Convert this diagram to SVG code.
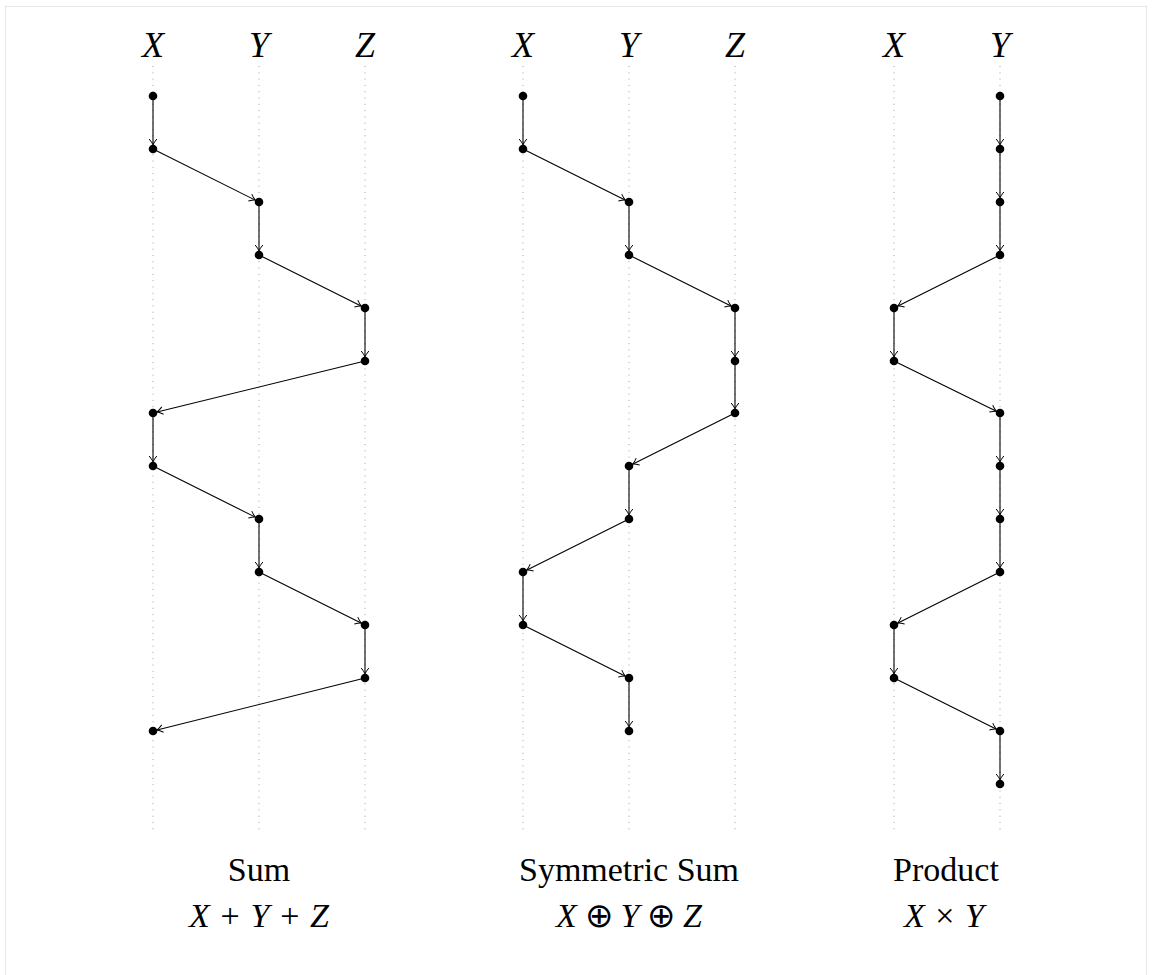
<svg xmlns="http://www.w3.org/2000/svg" width="1152" height="975" viewBox="0 0 1152 975">
<style>
.guide{stroke:#a0a0a0;stroke-width:1;stroke-dasharray:1 5.3;fill:none}
.edge{stroke:#000;stroke-width:1.1;fill:none;marker-end:url(#arr)}
.dot{fill:#000}
text{font-family:"Liberation Serif","Times New Roman","DejaVu Serif",serif;fill:#000;text-anchor:middle}
.var{font-style:italic;font-size:36px}
.cap{font-size:34px}
.math{font-size:34px}
.i{font-style:italic}
.op{font-family:"DejaVu Sans","Liberation Serif",serif;font-weight:200}
</style>
<defs>
<marker id="arr" markerUnits="userSpaceOnUse" orient="auto" refX="0" refY="0" markerWidth="20" markerHeight="20" viewBox="-10 -10 20 20" overflow="visible">
<path d="M-10,-3.8 Q-6.5,-1 -4.2,0 Q-6.5,1 -10,3.8" stroke="#000" stroke-width="1" fill="none"/>
</marker>
</defs>
<rect x="5.5" y="6.5" width="1141" height="990" fill="none" stroke="#e6e6e6" stroke-width="1"/>

<g id="guides">
<line class="guide" x1="153" y1="66" x2="153" y2="834"/>
<line class="guide" x1="259" y1="66" x2="259" y2="834"/>
<line class="guide" x1="365" y1="66" x2="365" y2="834"/>
<line class="guide" x1="523" y1="66" x2="523" y2="834"/>
<line class="guide" x1="629" y1="66" x2="629" y2="834"/>
<line class="guide" x1="735" y1="66" x2="735" y2="834"/>
<line class="guide" x1="894" y1="66" x2="894" y2="834"/>
<line class="guide" x1="1000" y1="66" x2="1000" y2="834"/>
</g>

<g id="headers">
<text class="var" x="153" y="57">X</text>
<text class="var" x="259" y="57">Y</text>
<text class="var" x="365" y="57">Z</text>
<text class="var" x="523" y="57">X</text>
<text class="var" x="629" y="57">Y</text>
<text class="var" x="735" y="57">Z</text>
<text class="var" x="894" y="57">X</text>
<text class="var" x="1000" y="57">Y</text>
</g>

<g id="connectors">
<line class="edge" x1="153" y1="96" x2="153" y2="149"/>
<line class="edge" x1="153" y1="149" x2="259" y2="202"/>
<line class="edge" x1="259" y1="202" x2="259" y2="255"/>
<line class="edge" x1="259" y1="255" x2="365" y2="308"/>
<line class="edge" x1="365" y1="308" x2="365" y2="361"/>
<line class="edge" x1="365" y1="361" x2="153" y2="413"/>
<line class="edge" x1="153" y1="413" x2="153" y2="466"/>
<line class="edge" x1="153" y1="466" x2="259" y2="519"/>
<line class="edge" x1="259" y1="519" x2="259" y2="572"/>
<line class="edge" x1="259" y1="572" x2="365" y2="625"/>
<line class="edge" x1="365" y1="625" x2="365" y2="678"/>
<line class="edge" x1="365" y1="678" x2="153" y2="731"/>
<line class="edge" x1="523" y1="96" x2="523" y2="149"/>
<line class="edge" x1="523" y1="149" x2="629" y2="202"/>
<line class="edge" x1="629" y1="202" x2="629" y2="255"/>
<line class="edge" x1="629" y1="255" x2="735" y2="308"/>
<line class="edge" x1="735" y1="308" x2="735" y2="361"/>
<line class="edge" x1="735" y1="361" x2="735" y2="413"/>
<line class="edge" x1="735" y1="413" x2="629" y2="466"/>
<line class="edge" x1="629" y1="466" x2="629" y2="519"/>
<line class="edge" x1="629" y1="519" x2="523" y2="572"/>
<line class="edge" x1="523" y1="572" x2="523" y2="625"/>
<line class="edge" x1="523" y1="625" x2="629" y2="678"/>
<line class="edge" x1="629" y1="678" x2="629" y2="731"/>
<line class="edge" x1="1000" y1="96" x2="1000" y2="149"/>
<line class="edge" x1="1000" y1="149" x2="1000" y2="202"/>
<line class="edge" x1="1000" y1="202" x2="1000" y2="255"/>
<line class="edge" x1="1000" y1="255" x2="894" y2="308"/>
<line class="edge" x1="894" y1="308" x2="894" y2="361"/>
<line class="edge" x1="894" y1="361" x2="1000" y2="413"/>
<line class="edge" x1="1000" y1="413" x2="1000" y2="466"/>
<line class="edge" x1="1000" y1="466" x2="1000" y2="519"/>
<line class="edge" x1="1000" y1="519" x2="1000" y2="572"/>
<line class="edge" x1="1000" y1="572" x2="894" y2="625"/>
<line class="edge" x1="894" y1="625" x2="894" y2="678"/>
<line class="edge" x1="894" y1="678" x2="1000" y2="731"/>
<line class="edge" x1="1000" y1="731" x2="1000" y2="784"/>
</g>

<g id="sum-nodes">
<circle class="dot" cx="153" cy="96" r="4.3"/>
<circle class="dot" cx="153" cy="149" r="4.3"/>
<circle class="dot" cx="259" cy="202" r="4.3"/>
<circle class="dot" cx="259" cy="255" r="4.3"/>
<circle class="dot" cx="365" cy="308" r="4.3"/>
<circle class="dot" cx="365" cy="361" r="4.3"/>
<circle class="dot" cx="153" cy="413" r="4.3"/>
<circle class="dot" cx="153" cy="466" r="4.3"/>
<circle class="dot" cx="259" cy="519" r="4.3"/>
<circle class="dot" cx="259" cy="572" r="4.3"/>
<circle class="dot" cx="365" cy="625" r="4.3"/>
<circle class="dot" cx="365" cy="678" r="4.3"/>
<circle class="dot" cx="153" cy="731" r="4.3"/>
</g>
<g id="symsum-nodes">
<circle class="dot" cx="523" cy="96" r="4.3"/>
<circle class="dot" cx="523" cy="149" r="4.3"/>
<circle class="dot" cx="629" cy="202" r="4.3"/>
<circle class="dot" cx="629" cy="255" r="4.3"/>
<circle class="dot" cx="735" cy="308" r="4.3"/>
<circle class="dot" cx="735" cy="361" r="4.3"/>
<circle class="dot" cx="735" cy="413" r="4.3"/>
<circle class="dot" cx="629" cy="466" r="4.3"/>
<circle class="dot" cx="629" cy="519" r="4.3"/>
<circle class="dot" cx="523" cy="572" r="4.3"/>
<circle class="dot" cx="523" cy="625" r="4.3"/>
<circle class="dot" cx="629" cy="678" r="4.3"/>
<circle class="dot" cx="629" cy="731" r="4.3"/>
</g>
<g id="product-nodes">
<circle class="dot" cx="1000" cy="96" r="4.3"/>
<circle class="dot" cx="1000" cy="149" r="4.3"/>
<circle class="dot" cx="1000" cy="202" r="4.3"/>
<circle class="dot" cx="1000" cy="255" r="4.3"/>
<circle class="dot" cx="894" cy="308" r="4.3"/>
<circle class="dot" cx="894" cy="361" r="4.3"/>
<circle class="dot" cx="1000" cy="413" r="4.3"/>
<circle class="dot" cx="1000" cy="466" r="4.3"/>
<circle class="dot" cx="1000" cy="519" r="4.3"/>
<circle class="dot" cx="1000" cy="572" r="4.3"/>
<circle class="dot" cx="894" cy="625" r="4.3"/>
<circle class="dot" cx="894" cy="678" r="4.3"/>
<circle class="dot" cx="1000" cy="731" r="4.3"/>
<circle class="dot" cx="1000" cy="784" r="4.3"/>
</g>

<g id="captions">
<text class="cap" x="259" y="881">Sum</text>
<text class="math" x="259" y="927" textLength="140" lengthAdjust="spacing"><tspan class="i">X</tspan> + <tspan class="i">Y</tspan> + <tspan class="i">Z</tspan></text>
<text class="cap" x="629" y="881">Symmetric Sum</text>
<text class="math" x="629" y="927" textLength="146" lengthAdjust="spacing"><tspan class="i">X</tspan> <tspan class="op">⊕</tspan> <tspan class="i">Y</tspan> <tspan class="op">⊕</tspan> <tspan class="i">Z</tspan></text>
<text class="cap" x="946" y="881">Product</text>
<text class="math" x="944" y="927" textLength="80" lengthAdjust="spacing"><tspan class="i">X</tspan> × <tspan class="i">Y</tspan></text>
</g>
</svg>
